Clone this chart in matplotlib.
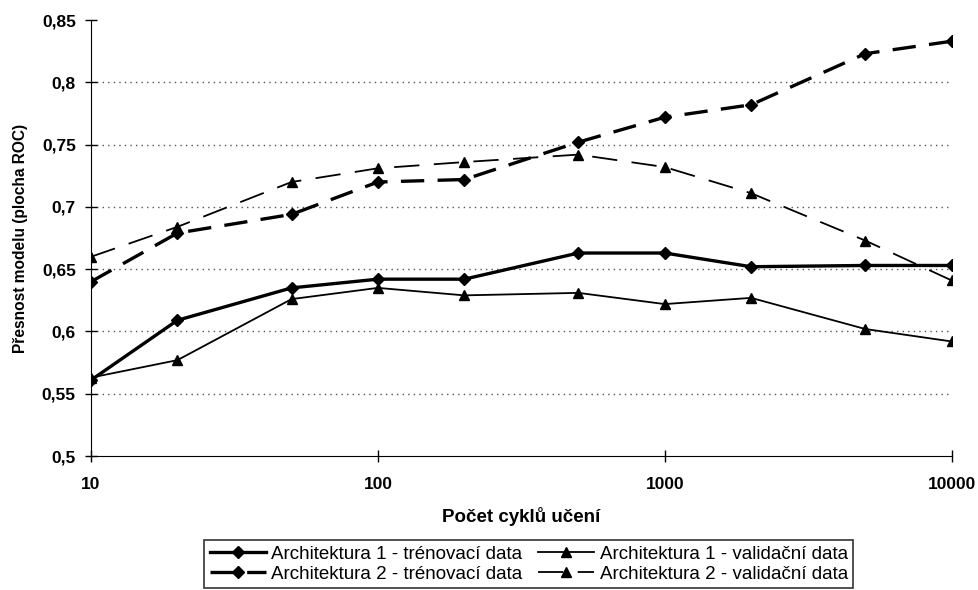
import matplotlib.pyplot as plt
from matplotlib.ticker import FuncFormatter, FixedLocator, NullLocator

plt.rcParams['font.family'] = ['Liberation Sans', 'DejaVu Sans']

# Data
cycles = [10, 20, 50, 100, 200, 500, 1000, 2000, 5000, 10000]
arch1_train = [0.561, 0.609, 0.635, 0.642, 0.642, 0.663, 0.663, 0.652, 0.653, 0.653]
arch1_valid = [0.563, 0.577, 0.626, 0.635, 0.629, 0.631, 0.622, 0.627, 0.602, 0.592]
arch2_train = [0.640, 0.679, 0.694, 0.720, 0.722, 0.752, 0.772, 0.782, 0.823, 0.833]
arch2_valid = [0.660, 0.684, 0.720, 0.731, 0.736, 0.742, 0.732, 0.711, 0.673, 0.641]

labels = ['Architektura 1 - trénovací data', 'Architektura 1 - validační data',
          'Architektura 2 - trénovací data', 'Architektura 2 - validační data']
y_ticks = [0.5, 0.55, 0.6, 0.65, 0.7, 0.75, 0.8, 0.85]
x_ticks = [10, 100, 1000, 10000]

fig = plt.figure(figsize=(9.79, 5.9), dpi=100)
ax = fig.add_axes([0.093, 0.227, 0.879, 0.739])

h1, = ax.plot(cycles, arch1_train, color='black', lw=2.4, marker='D', ms=6, label=labels[0])
h2, = ax.plot(cycles, arch1_valid, color='black', lw=1.3, marker='^', ms=7, label=labels[1])
h3, = ax.plot(cycles, arch2_train, color='black', lw=2.4, ls=(0, (7, 4)), marker='D', ms=6,
              label=labels[2])
h4, = ax.plot(cycles, arch2_valid, color='black', lw=1.3, ls=(0, (14, 8)), marker='^', ms=7,
              label=labels[3])

ax.set_xscale('log')
ax.set_xlim(10, 10000)
ax.set_ylim(0.5, 0.85)
ax.xaxis.set_major_locator(FixedLocator(x_ticks))
ax.xaxis.set_minor_locator(NullLocator())
ax.xaxis.set_major_formatter(FuncFormatter(lambda v, p: f'{int(v)}'))
ax.set_yticks(y_ticks)
ax.yaxis.set_major_formatter(FuncFormatter(lambda v, p: f'{v:g}'.replace('.', ',')))

for yv in y_ticks[1:-1]:
    ax.axhline(yv, color='#555555', lw=1.0, ls=(0, (1, 3)), zorder=0)

ax.spines['top'].set_visible(False)
ax.spines['right'].set_visible(False)
ax.tick_params(axis='both', labelsize=12.5, direction='inout', length=8, width=1)
ax.tick_params(axis='x', pad=11)
ax.tick_params(axis='y', pad=7)
for t in ax.get_xticklabels() + ax.get_yticklabels():
    t.set_fontweight('bold')

ax.set_xlabel('Počet cyklů učení', fontsize=13.5, fontweight='bold', labelpad=11)
ax.set_ylabel('Přesnost modelu (plocha ROC)', fontsize=11.2, fontweight='bold', labelpad=10)

# legend is filled row by row in the reference
leg = fig.legend([h1, h3, h2, h4], [labels[0], labels[2], labels[1], labels[3]],
                 loc='upper center', bbox_to_anchor=(0.540, 0.085), ncol=2,
                 fontsize=13.5, frameon=True, fancybox=False, edgecolor='black',
                 handlelength=3.0, columnspacing=0.8, handletextpad=0.3,
                 borderpad=0.3, labelspacing=0.15, borderaxespad=0)
leg.get_frame().set_linewidth(1.2)

fig.savefig('out.png', dpi=100)
